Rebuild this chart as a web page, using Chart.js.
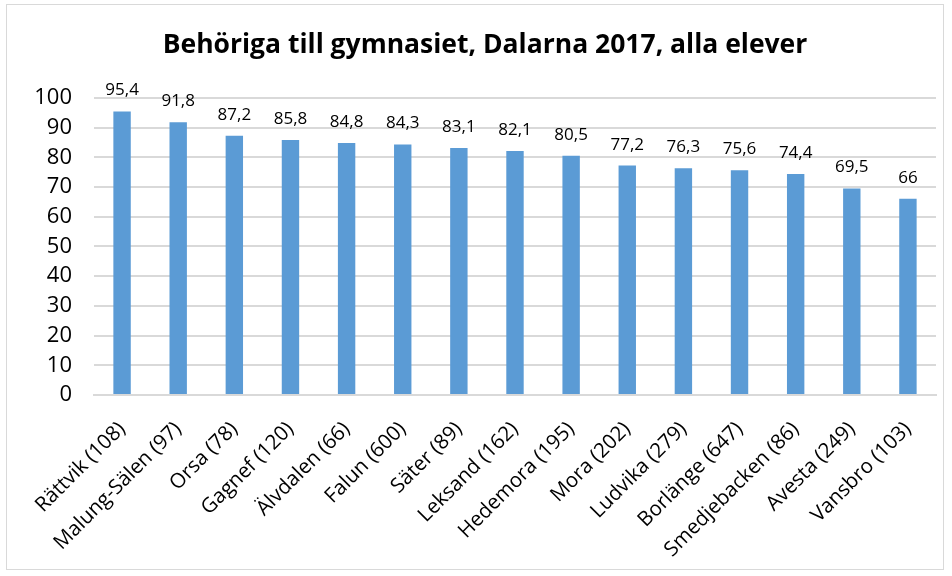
<!DOCTYPE html>
<html>
<head>
<meta charset="utf-8">
<script src="https://cdn.jsdelivr.net/npm/chart.js@4"></script>
<style>
  html, body { margin: 0; padding: 0; background: #fff; }
  #wrap { position: relative; width: 952px; height: 576px; }
  #frame { position: absolute; left: 6px; top: 4px; width: 938px; height: 566px; border: 1px solid #d9d9d9; box-sizing: border-box; }
  canvas { position: absolute; left: 0; top: 0; }
</style>
</head>
<body>
<div id="wrap">
  <div id="frame"></div>
  <canvas id="chart" width="952" height="576"></canvas>
</div>
<script>
// kommuner (antal elever)
const kommuner = [
  "Rättvik (108)", "Malung-Sälen (97)", "Orsa (78)", "Gagnef (120)", "Älvdalen (66)",
  "Falun (600)", "Säter (89)", "Leksand (162)", "Hedemora (195)", "Mora (202)",
  "Ludvika (279)", "Borlänge (647)", "Smedjebacken (86)", "Avesta (249)", "Vansbro (103)"
];
// andel behöriga, procent
const behoriga = [95.4, 91.8, 87.2, 85.8, 84.8, 84.3, 83.1, 82.1, 80.5, 77.2, 76.3, 75.6, 74.4, 69.5, 66];
const yTicks = [0, 10, 20, 30, 40, 50, 60, 70, 80, 90, 100];

const FONT = "'Open Sans', 'Liberation Sans', sans-serif";

// etiketter ovanför staplarna
const dataLabels = {
  id: "dataLabels",
  afterDatasetsDraw(chart) {
    const ctx = chart.ctx;
    ctx.save();
    ctx.font = "17px " + FONT;
    ctx.fillStyle = "#000";
    ctx.textAlign = "center";
    ctx.textBaseline = "alphabetic";
    chart.getDatasetMeta(0).data.forEach((bar, i) => {
      const txt = String(behoriga[i]).replace(".", ",");
      ctx.fillText(txt, bar.x, bar.y - 16);
    });
    ctx.restore();
  }
};

new Chart(document.getElementById("chart"), {
  type: "bar",
  data: {
    labels: kommuner,
    datasets: [{
      data: behoriga,
      backgroundColor: "#5b9bd5",
      barPercentage: 0.31,
      categoryPercentage: 1.0
    }]
  },
  options: {
    responsive: false,
    animation: false,
    layout: { padding: { left: 34, right: 16, top: 22, bottom: 0 } },
    plugins: {
      legend: { display: false },
      tooltip: { enabled: false },
      title: {
        display: true,
        text: "Behöriga till gymnasiet, Dalarna 2017, alla elever",
        color: "#000",
        font: { family: FONT, size: 26.5, weight: "bold" },
        padding: { top: 8, bottom: 36 }
      }
    },
    scales: {
      x: {
        grid: { display: false },
        border: { color: "#d9d9d9", width: 2 },
        // låt de lutande etiketterna gå ut i marginalen
        beforeFit(scale) {
          scale._calculatePadding = function () {
            this.paddingLeft = 0; this.paddingRight = 0;
            this.paddingTop = 0; this.paddingBottom = 0;
          };
        },
        ticks: {
          color: "#000",
          font: { family: FONT, size: 20.5 },
          padding: 14,
          minRotation: 45,
          maxRotation: 45,
          autoSkip: false
        }
      },
      y: {
        min: 0,
        max: 100,
        afterBuildTicks(axis) { axis.ticks = yTicks.map(v => ({ value: v })); },
        afterFit(scale) { scale.width = 60; },
        grid: { color: "#d9d9d9", lineWidth: 2, drawTicks: false },
        border: { display: false },
        ticks: {
          color: "#000",
          font: { family: FONT, size: 22 },
          padding: 22,
          autoSkip: false
        }
      }
    }
  },
  plugins: [dataLabels]
});
</script>
</body>
</html>
